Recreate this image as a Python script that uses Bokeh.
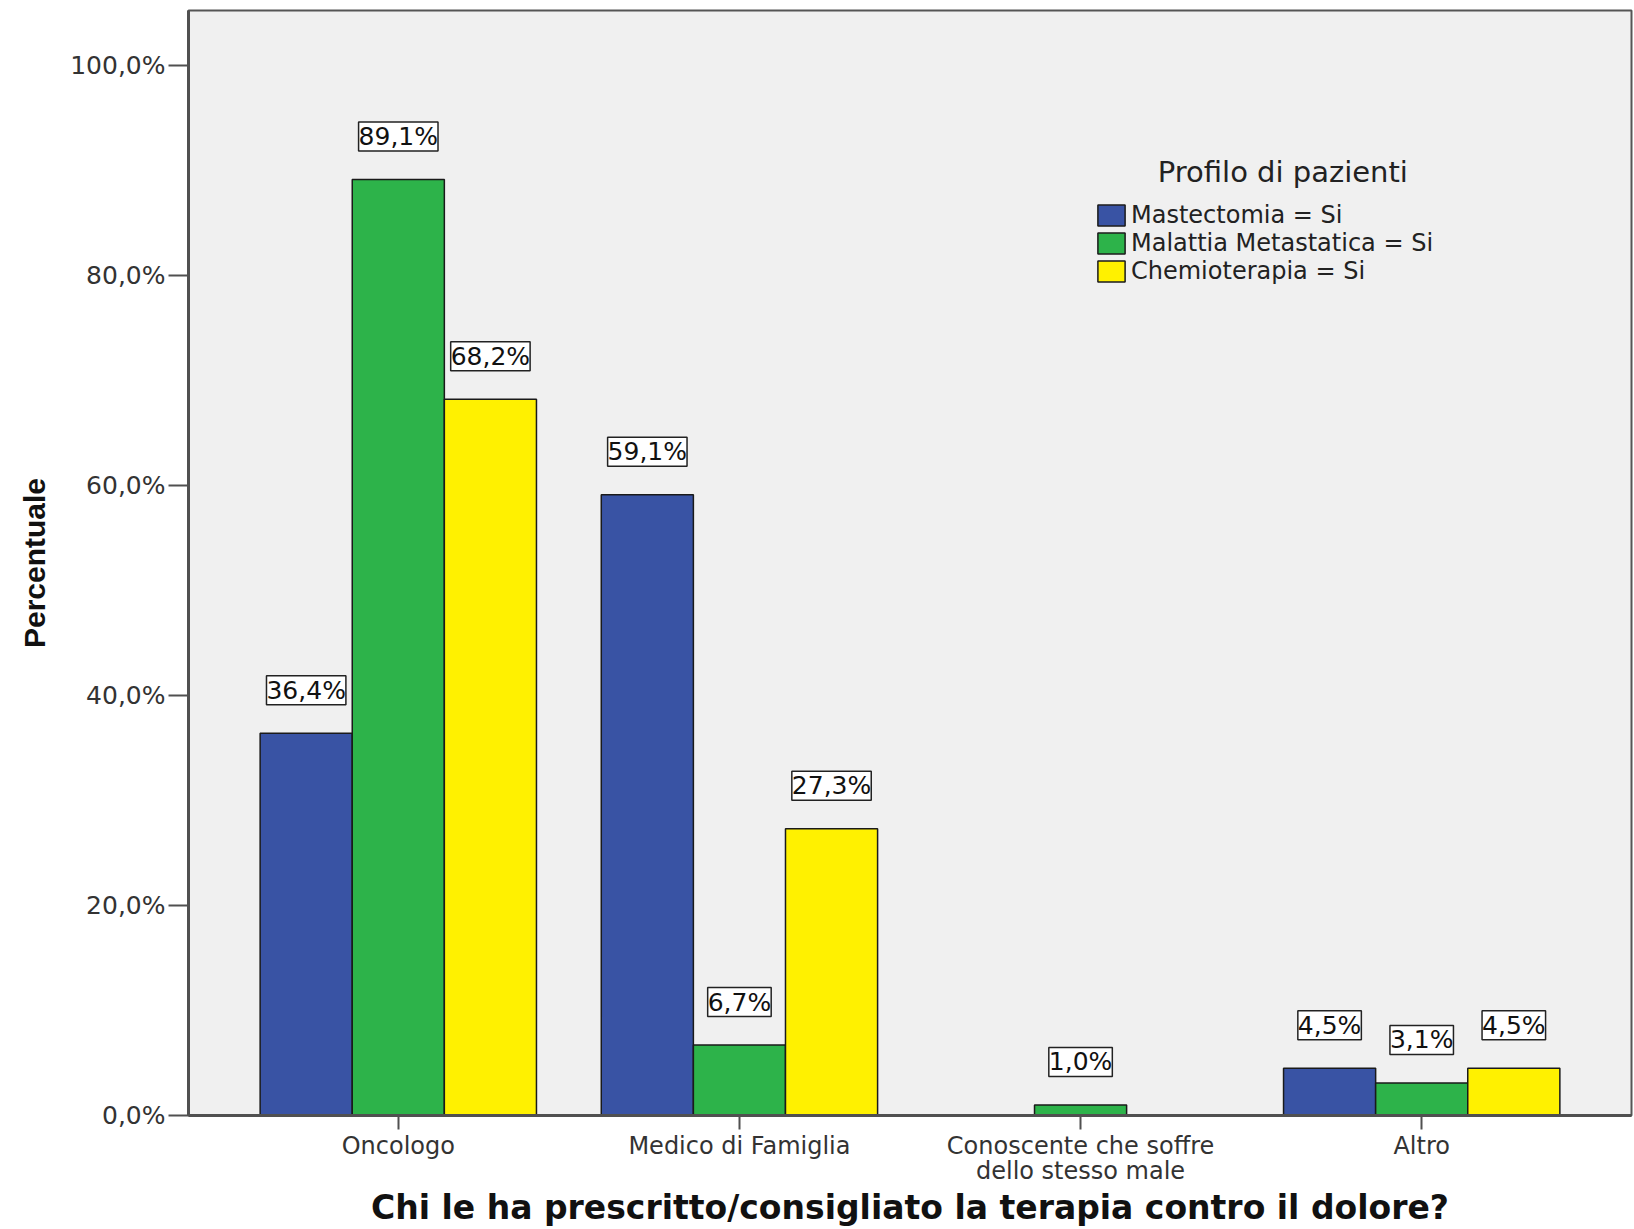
from bokeh.plotting import figure
from bokeh.models import (ColumnDataSource, Range1d, FixedTicker, LabelSet,
                          Legend, LegendItem, Label)
from bokeh.core.properties import value
from bokeh.embed import file_html
from bokeh.resources import INLINE

# ---- data ----
categories = ["Oncologo", "Medico di Famiglia",
              "Conoscente che soffre\ndello stesso male", "Altro"]
series_names = ["Mastectomia = Si", "Malattia Metastatica = Si", "Chemioterapia = Si"]
mastectomia = [36.4, 59.1, 0.0, 4.5]
metastatica = [89.1, 6.7, 1.0, 3.1]
chemioterapia = [68.2, 27.3, 0.0, 4.5]
y_ticks = [0, 20, 40, 60, 80, 100]
y_tick_labels = ["0,0%", "20,0%", "40,0%", "60,0%", "80,0%", "100,0%"]
legend_title = "Profilo di pazienti"
x_title = "Chi le ha prescritto/consigliato la terapia contro il dolore?"
y_title = "Percentuale"

# ---- styles ----
colors = ["#3953A4", "#2DB34A", "#FFF100"]
offsets = [-0.27, 0.0, 0.27]
bar_w = 0.27

p = figure(width=1634, height=1229, output_backend="svg", toolbar_location=None,
           x_range=Range1d(-0.615, 3.615), y_range=Range1d(0, 105.2),
           min_border_left=188, min_border_right=3, min_border_top=10,
           min_border_bottom=114)
p.background_fill_color = "#F0F0F0"
p.border_fill_color = "white"
p.outline_line_color = "#555555"
p.outline_line_width = 2
p.grid.visible = False

items = []
for name, vals, col, off in zip(series_names, [mastectomia, metastatica, chemioterapia],
                                colors, offsets):
    xs = [i + off for i in range(len(categories))]
    src = ColumnDataSource(dict(x=xs, top=vals))
    r = p.vbar(x="x", top="top", width=bar_w, bottom=0, fill_color=col,
               line_color="#1a1a1a", line_width=1.5, source=src)
    items.append(LegendItem(label=name, renderers=[r]))
    lx = [x for x, v in zip(xs, vals) if v > 0]
    ly = [v for v in vals if v > 0]
    lt = [f"{v:.1f}".replace(".", ",") + "%" for v in vals if v > 0]
    lsrc = ColumnDataSource(dict(x=lx, y=ly, t=lt))
    p.add_layout(LabelSet(x="x", y="y", text="t", source=lsrc,
                          text_align="center", text_baseline="middle", y_offset=43,
                          text_font=value("DejaVu Sans"), text_font_size="25px",
                          text_color="#111111", background_fill_color="white",
                          border_line_color="#222222", border_line_width=1.5))

legend = Legend(items=items, location=(906, 830), orientation="vertical",
                padding=0, margin=0, spacing=0, border_line_color=None,
                background_fill_alpha=0, glyph_width=34, glyph_height=26,
                label_standoff=3, label_text_font="DejaVu Sans",
                label_text_font_size="24px", label_text_color="#222222")
p.add_layout(legend)

p.add_layout(Label(x=2.593, y=89.8, text=legend_title, text_align="center",
                   text_baseline="middle", text_font="DejaVu Sans",
                   text_font_size="29px", text_color="#222222"))

# y axis
ya = p.yaxis[0]
ya.ticker = FixedTicker(ticks=y_ticks)
ya.major_label_overrides = {t: l for t, l in zip(y_ticks, y_tick_labels)}
ya.axis_label = y_title
ya.axis_label_text_font = "Liberation Sans"
ya.axis_label_text_font_style = "bold"
ya.axis_label_text_font_size = "30px"
ya.axis_label_text_color = "#111111"
ya.axis_label_standoff = 16
ya.major_label_text_font = "DejaVu Sans"
ya.major_label_text_font_size = "25px"
ya.major_label_text_color = "#333333"
ya.major_label_standoff = 3
ya.major_tick_out = 20
ya.major_tick_in = 0
ya.minor_tick_out = 0
ya.minor_tick_in = 0
ya.axis_line_width = 3
ya.axis_line_color = "#505050"
ya.major_tick_line_width = 2
ya.major_tick_line_color = "#505050"

# x axis
xa = p.xaxis[0]
xa.ticker = FixedTicker(ticks=list(range(len(categories))))
xa.major_label_overrides = {i: c for i, c in enumerate(categories)}
xa.axis_label = x_title
xa.axis_label_text_font = "DejaVu Sans"
xa.axis_label_text_font_style = "bold"
xa.axis_label_text_font_size = "33px"
xa.axis_label_text_color = "#111111"
xa.axis_label_text_line_height = 1.0
xa.axis_label_standoff = 0
xa.major_label_text_font = "DejaVu Sans"
xa.major_label_text_font_size = "24px"
xa.major_label_text_color = "#333333"
xa.major_label_text_line_height = 0.9
xa.major_label_standoff = 2
xa.major_label_orientation = "horizontal"
xa.major_tick_out = 14
xa.major_tick_in = 0
xa.minor_tick_out = 0
xa.minor_tick_in = 0
xa.axis_line_width = 3
xa.axis_line_color = "#505050"
xa.major_tick_line_width = 2
xa.major_tick_line_color = "#505050"

open("out.html", "w").write(file_html(p, INLINE))
